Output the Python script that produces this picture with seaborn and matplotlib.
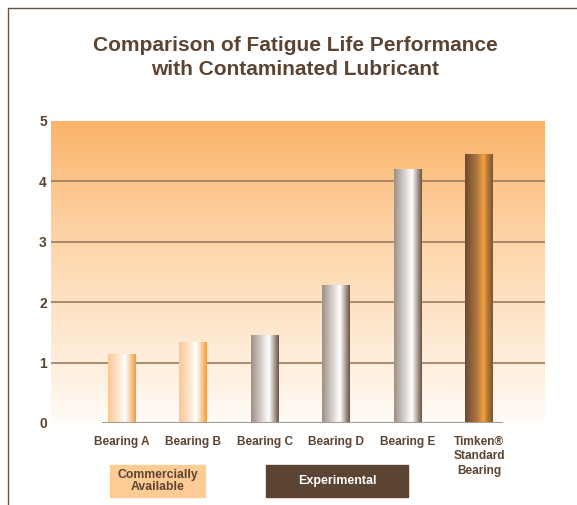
import numpy as np
import pandas as pd
import matplotlib
matplotlib.use("Agg")
import matplotlib.pyplot as plt
import seaborn as sns
from matplotlib.colors import LinearSegmentedColormap
from matplotlib.lines import Line2D
from matplotlib.patches import Rectangle

# data
bearings = ["Bearing A", "Bearing B", "Bearing C", "Bearing D", "Bearing E",
            "Timken®\nStandard\nBearing"]
fatigue_life = [1.13, 1.33, 1.45, 2.28, 4.2, 4.45]
bar_group = ["commercial", "commercial", "experimental", "experimental",
             "experimental", "timken"]
y_ticks = [0, 1, 2, 3, 4, 5]

brown = "#5c4433"

sns.set_theme(style="white")
plt.rcParams["font.family"] = ["Liberation Sans", "DejaVu Sans"]

df = pd.DataFrame({"bearing": bearings, "life": fatigue_life, "group": bar_group})

fig = plt.figure(figsize=(5.77, 5.05), dpi=100)
ax = fig.add_axes([51 / 577, 1 - 423 / 505, 494 / 577, 302 / 505])

sns.barplot(data=df, x="bearing", y="life", ax=ax, width=0.39,
            color="white", linewidth=0, zorder=2)

# background gradient, orange to near white
bg = LinearSegmentedColormap.from_list(
    "bg", [(0, "#fffcf8"), (0.12, "#fff3e6"), (0.6, "#fdd5aa"), (1, "#fbb46a")])
grad = np.linspace(0, 1, 256).reshape(-1, 1)
ax.imshow(grad, cmap=bg, origin="lower", aspect="auto", extent=[0, 1, 0, 1],
          transform=ax.transAxes, zorder=0)

# cylinder shading for each bar group
cmaps = {
    "commercial": LinearSegmentedColormap.from_list(
        "c", [(0, "#fcc690"), (0.45, "#feeede"), (0.62, "#ffffff"), (1, "#f49a3a")]),
    "experimental": LinearSegmentedColormap.from_list(
        "e", [(0, "#9e8f85"), (0.5, "#ece8e5"), (0.65, "#ffffff"), (1, "#6a5242")]),
    "timken": LinearSegmentedColormap.from_list(
        "t", [(0, "#6a4a32"), (0.45, "#b47a40"), (0.68, "#f8a040"),
              (0.76, "#c88438"), (1, "#7a5535")]),
}
row = np.linspace(0, 1, 128).reshape(1, -1)
for patch, grp in zip(ax.patches, bar_group):
    x0, w, h = patch.get_x(), patch.get_width(), patch.get_height()
    ax.imshow(row, cmap=cmaps[grp], aspect="auto",
              extent=[x0, x0 + w, 0, h], zorder=3)

ax.set_xlim(-0.994, 5.924)
ax.set_ylim(0, 5)
ax.set_yticks(y_ticks)

for v in y_ticks[1:-1]:
    ax.axhline(v, color="#9a7a5e", lw=1.2, zorder=1)
ax.axhline(0, xmin=0.105, xmax=0.913, color="#a8988c", lw=1.5, zorder=4)

for s in ax.spines.values():
    s.set_visible(False)

ax.tick_params(axis="both", length=0, colors=brown)
ax.tick_params(axis="y", pad=3, labelsize=10)
ax.tick_params(axis="x", pad=9, labelsize=8.6)
for lab in ax.get_xticklabels() + ax.get_yticklabels():
    lab.set_fontweight("bold")
    lab.set_color(brown)
for lab in ax.get_xticklabels():
    lab.set_linespacing(1.3)
ax.set_xlabel("")
ax.set_ylabel("")

fig.text(295 / 577, 1 - 57.5 / 505,
         "Comparison of Fatigue Life Performance\nwith Contaminated Lubricant",
         ha="center", va="center", fontsize=15, fontweight="bold",
         color=brown, linespacing=1.35)

# legend boxes under the axis
fig.patches.append(Rectangle((110 / 577, 1 - 497 / 505), 95 / 577, 32 / 505,
                             transform=fig.transFigure, color="#fdcc94"))
fig.text(157.5 / 577, 1 - 481 / 505, "Commercially\nAvailable", ha="center",
         va="center", fontsize=8.8, fontweight="bold", color=brown, linespacing=1.1)
fig.patches.append(Rectangle((266 / 577, 1 - 497 / 505), 142 / 577, 32 / 505,
                             transform=fig.transFigure, color=brown))
fig.text(337 / 577, 1 - 481 / 505, "Experimental", ha="center", va="center",
         fontsize=9, fontweight="bold", color="white")

# page frame on the left and top
fig.lines.append(Line2D([8 / 577, 8 / 577], [0, 1 - 8 / 505],
                        transform=fig.transFigure, color="#6b5040", lw=1))
fig.lines.append(Line2D([8 / 577, 1], [1 - 8 / 505, 1 - 8 / 505],
                        transform=fig.transFigure, color="#6b5040", lw=1))

fig.savefig("out.png", dpi=100)
